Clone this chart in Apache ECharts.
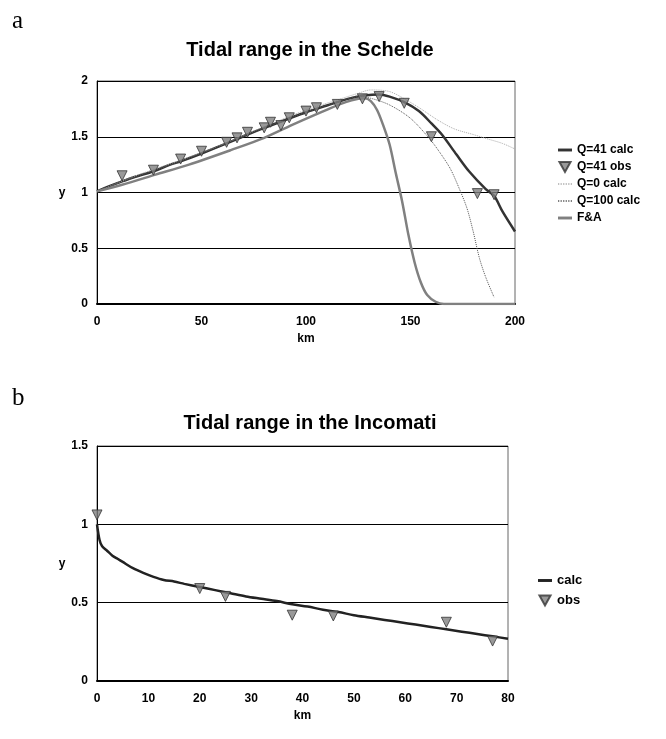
<!DOCTYPE html>
<html>
<head>
<meta charset="utf-8">
<script src="https://cdn.jsdelivr.net/npm/echarts@6/dist/echarts.min.js"></script>
<style>
  html, body { margin: 0; padding: 0; background: #fff; }
  #chart { width: 666px; height: 739px; }
</style>
</head>
<body>
<div id="chart"></div>
<script>
// Schelde (panel a): [km, tidal range]
var q41Calc = [[0,1.01],[5,1.05],[12,1.10],[20,1.15],[27,1.19],[35,1.25],[40,1.28],[50,1.35],[62,1.44],[72,1.52],[80,1.58],[90,1.65],[100,1.72],[110,1.78],[120,1.84],[128,1.87],[135,1.88],[140,1.86],[147,1.81],[154,1.73],[160,1.62],[165,1.52],[172,1.34],[178,1.19],[186,1.03],[190,0.97],[194,0.83],[200,0.65]];
var q41Obs = [[12,1.15],[27,1.20],[40,1.30],[50,1.37],[62,1.45],[67,1.49],[72,1.54],[80,1.58],[83,1.63],[88,1.60],[92,1.67],[100,1.73],[105,1.76],[115,1.79],[127,1.84],[135,1.86],[147,1.80],[160,1.50],[182,0.99],[190,0.98]];
var q0Calc = [[0,1.01],[20,1.16],[40,1.29],[60,1.43],[80,1.59],[100,1.74],[115,1.83],[125,1.89],[131,1.92],[140,1.905],[148,1.83],[155,1.75],[163,1.65],[171,1.57],[180,1.52],[187,1.48],[194,1.44],[200,1.39]];
var q100Calc = [[0,1.01],[20,1.15],[40,1.28],[60,1.43],[80,1.58],[100,1.72],[115,1.81],[125,1.86],[131,1.845],[140,1.785],[150,1.665],[159,1.485],[164,1.36],[169,1.215],[173,1.05],[177,0.86],[180,0.65],[183,0.41],[186,0.24],[190,0.06]];
var faCalc = [[0,1.01],[12,1.07],[28,1.16],[44,1.25],[64,1.38],[80,1.49],[95,1.62],[111,1.75],[119,1.81],[125,1.84],[128,1.845],[131,1.82],[134,1.74],[137,1.60],[140,1.43],[143,1.17],[146,0.92],[149,0.62],[152,0.37],[155,0.19],[158,0.08],[162,0.02],[166,0],[200,0]];

// Incomati (panel b)
var incCalc = [[0,1.0],[0.5,0.9],[1,0.86],[2,0.83],[3,0.80],[4,0.78],[5,0.76],[7,0.72],[9,0.69],[11,0.665],[13,0.645],[15,0.635],[17,0.62],[20,0.60],[23,0.58],[26,0.56],[29,0.54],[32,0.525],[35,0.51],[38,0.49],[41,0.475],[44,0.455],[47,0.44],[50,0.42],[53,0.405],[56,0.39],[59,0.375],[62,0.36],[65,0.345],[68,0.33],[71,0.315],[74,0.30],[77,0.285],[80,0.27]];
var incObs = [[0,1.06],[20,0.59],[25,0.54],[38,0.42],[46,0.415],[68,0.375],[77,0.255]];

var titles = ['Tidal range in the Schelde', 'Tidal range in the Incomati'];
var legendA = ['Q=41 calc', 'Q=41 obs', 'Q=0 calc', 'Q=100 calc', 'F&A'];
var legendB = ['calc', 'obs'];

var font = 'Liberation Sans, Arial, sans-serif';
var lbl = { color: '#000', fontFamily: font, fontWeight: 'bold', fontSize: 12 };

// legend icons (Excel style short samples)
var iconLine = 'path://M0,0L12,0L12,2.5L0,2.5Z';
var iconDots = 'path://M0,0h1v1h-1zM2,0h1v1h-1zM4,0h1v1h-1zM6,0h1v1h-1zM8,0h1v1h-1zM10,0h1v1h-1z';
var iconTri = 'path://M0,0L10,0L5,9Z';

function xAx(idx, max, interval) {
  return {
    type: 'value', gridIndex: idx, min: 0, max: max, interval: interval,
    name: 'km', nameLocation: 'middle', nameGap: 29,
    nameTextStyle: lbl,
    axisLine: { show: true, lineStyle: { color: '#000', width: 2 } },
    axisTick: { show: false },
    axisLabel: Object.assign({ margin: 12 }, lbl),
    splitLine: { show: false }
  };
}
function yAx(idx, max) {
  return {
    type: 'value', gridIndex: idx, min: 0, max: max, interval: 0.5,
    name: 'y', nameLocation: 'middle', nameRotate: 0, nameGap: 19,
    nameTextStyle: lbl,
    axisLine: { show: true, lineStyle: { color: '#000', width: 1 } },
    axisTick: { show: false },
    axisLabel: Object.assign({ margin: 9 }, lbl),
    splitLine: { show: true, lineStyle: { color: '#000', width: 1 } }
  };
}
function tri(name, data, xi) {
  return {
    name: name, type: 'scatter', xAxisIndex: xi, yAxisIndex: xi, data: data,
    symbol: 'triangle', symbolRotate: 180, symbolSize: 10,
    itemStyle: { color: '#808080', borderColor: '#333', borderWidth: 1 }, z: 5
  };
}
function line(name, data, xi, color, width, type) {
  return {
    name: name, type: 'line', xAxisIndex: xi, yAxisIndex: xi, data: data,
    symbol: 'none', smooth: 0.3,
    lineStyle: { color: color, width: width, type: type || 'solid' },
    itemStyle: { color: color }
  };
}

var chart = echarts.init(document.getElementById('chart'), null, { renderer: 'canvas' });
chart.setOption({
  backgroundColor: '#fff',
  animation: false,
  textStyle: { fontFamily: font },
  title: [
    { text: titles[0], left: 305, top: 35, textAlign: 'center',
      textStyle: { fontFamily: font, fontWeight: 'bold', fontSize: 20, color: '#000' } },
    { text: titles[1], left: 305, top: 408, textAlign: 'center',
      textStyle: { fontFamily: font, fontWeight: 'bold', fontSize: 20, color: '#000' } }
  ],
  graphic: [
    { type: 'text', left: 12, top: 9, style: { text: 'a', font: '25px "Liberation Serif", serif', fill: '#000' } },
    { type: 'text', left: 12, top: 386, style: { text: 'b', font: '25px "Liberation Serif", serif', fill: '#000' } }
  ],
  legend: [
    { orient: 'vertical', left: 553, top: 139, itemGap: 5, itemWidth: 14, itemHeight: 10,
      data: [
        { name: legendA[0], icon: iconLine },
        { name: legendA[1], icon: iconTri },
        { name: legendA[2], icon: iconDots },
        { name: legendA[3], icon: iconDots },
        { name: legendA[4], icon: iconLine }
      ],
      textStyle: { fontFamily: font, fontWeight: 'bold', fontSize: 12, color: '#000' } },
    { orient: 'vertical', left: 533, top: 569, itemGap: 7, itemWidth: 14, itemHeight: 10,
      data: [
        { name: legendB[0], icon: iconLine },
        { name: legendB[1], icon: iconTri }
      ],
      textStyle: { fontFamily: font, fontWeight: 'bold', fontSize: 13, color: '#000' } }
  ],
  grid: [
    { left: 97, top: 81, width: 418, height: 223, show: true, borderColor: '#666', borderWidth: 1 },
    { left: 97, top: 446, width: 411, height: 235, show: true, borderColor: '#666', borderWidth: 1 }
  ],
  xAxis: [xAx(0, 200, 50), xAx(1, 80, 10)],
  yAxis: [yAx(0, 2), yAx(1, 1.5)],
  series: [
    line(legendA[0], q41Calc, 0, '#333', 2.5),
    tri(legendA[1], q41Obs, 0),
    line(legendA[2], q0Calc, 0, '#aaa', 1, 'dotted'),
    line(legendA[3], q100Calc, 0, '#555', 1, 'dotted'),
    line(legendA[4], faCalc, 0, '#808080', 2.5),
    line(legendB[0], incCalc, 1, '#222', 2.5),
    tri(legendB[1], incObs, 1)
  ]
});
</script>
</body>
</html>
